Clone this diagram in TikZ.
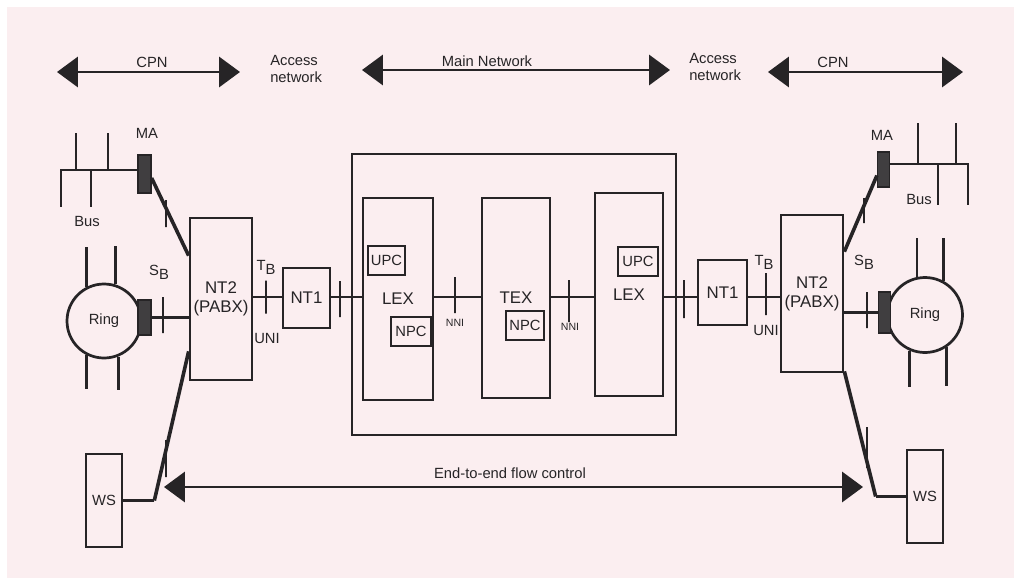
\documentclass[tikz,border=0pt]{standalone}
\usepackage{fontspec}
\setmainfont{Liberation Sans}
\usetikzlibrary{positioning, calc, arrows.meta}
\definecolor{paper}{RGB}{251,238,240}
\definecolor{ink}{RGB}{38,36,38}
\newcommand{\pxl}{0.25mm}
\tikzset{
wire/.style={draw=ink, line width=0.68mm}, % ordinary line between two parts
heavy/.style={draw=ink, line width=0.9mm}, % slanted lines to NT2
box/.style={draw=ink, line width=0.68mm, fill=paper, inner sep=0pt, align=center, text=ink, font=\fontsize{12}{13.5}\selectfont}, % equipment box
subbox/.style={box, font=\fontsize{10.5}{11.5}\selectfont}, % UPC and NPC
ringnode/.style={box, circle, font=\fontsize{10.5}{11.5}\selectfont}, % ring network
mablock/.style={draw=ink, fill=ink!88, line width=0.3mm, inner sep=0pt}, % medium adapter
tickbar/.style={draw=ink, line width=0.6mm, inner sep=0pt, minimum width=0pt}, % reference point mark
lbl/.style={font=\fontsize{10.5}{11.8}\selectfont, text=ink, inner sep=0pt}, % plain text
tinylbl/.style={font=\fontsize{7.5}{8}\selectfont, text=ink, inner sep=0pt}, % NNI text
span/.style={draw=ink, line width=0.65mm, {Triangle[length=5.2mm,width=7.5mm]}-{Triangle[length=5.2mm,width=7.5mm]}}, % double arrow
}

\begin{document}
\begin{tikzpicture}[x=0.25mm, y=-0.25mm]
\fill[white] (0,0) rectangle (1014,578);
\fill[paper] (7,7) rectangle (1014,578);
\useasboundingbox (0,0) rectangle (1014,578);

% spans on top
\coordinate (cpnLa) at (57,72);
\coordinate (cpnLb) at (240,72);
\coordinate (mainA) at (362,70);
\coordinate (mainB) at (670,70);
\coordinate (cpnRa) at (768,72);
\coordinate (cpnRb) at (963,72);
\draw[span] (cpnLa) -- (cpnLb);
\draw[span] (mainA) -- (mainB);
\draw[span] (cpnRa) -- (cpnRb);
\node[lbl] (cpnLtxt) at (152,62) {CPN};
\node[lbl, align=left, anchor=west] (accL) at (270,69) {Access\\network};
\node[lbl] (mainTxt) at (487,61) {Main Network};
\node[lbl, align=left, anchor=west] (accR) at (689,67) {Access\\network};
\node[lbl] (cpnRtxt) at (833,62) {CPN};

% main network
\node[box, minimum width=324*\pxl, minimum height=281*\pxl] (core) at (514,294.5) {};
\node[box, minimum width=70*\pxl, minimum height=202*\pxl] (lexL) at (398,299) {LEX};
\node[subbox, minimum width=37*\pxl, minimum height=29*\pxl] (upcL) at (386.5,260.5) {UPC};
\node[subbox, minimum width=40*\pxl, minimum height=29*\pxl] (npcL) at (411,331.5) {NPC};
\node[box, minimum width=68*\pxl, minimum height=200*\pxl] (tex) at (516,298) {TEX};
\node[subbox, minimum width=38*\pxl, minimum height=29*\pxl] (npcT) at (525,325.5) {NPC};
\node[box, minimum width=68*\pxl, minimum height=203*\pxl] (lexR) at (629,294.5) {LEX};
\node[subbox, minimum width=40*\pxl, minimum height=29*\pxl] (upcR) at (638,261.5) {UPC};

% access side
\node[box, minimum width=47*\pxl, minimum height=60*\pxl] (nt1L) at (306.5,298) {NT1};
\node[box, minimum width=62*\pxl, minimum height=162*\pxl] (nt2L) at (221,299) {NT2\\(PABX)};
\node[box, minimum width=49*\pxl, minimum height=65*\pxl] (nt1R) at (722.5,292.5) {NT1};
\node[box, minimum width=62*\pxl, minimum height=157*\pxl] (nt2R) at (812,293.5) {NT2\\(PABX)};

% customer premises
\node[subbox, minimum width=36*\pxl, minimum height=93*\pxl] (wsL) at (104,500.5) {WS};
\node[subbox, minimum width=36*\pxl, minimum height=93*\pxl] (wsR) at (925,496.5) {WS};
\node[ringnode, minimum size=74*\pxl] (ringL) at (104,321) {Ring};
\node[ringnode, minimum size=75*\pxl] (ringR) at (925,315) {Ring};
\node[mablock, minimum width=13*\pxl, minimum height=38*\pxl] (maL) at (144.5,174) {};
\node[mablock, minimum width=12*\pxl, minimum height=35*\pxl] (maR) at (883.5,169.5) {};
\node[mablock, minimum width=13*\pxl, minimum height=35*\pxl] (ringBL) at (144.5,317.5) {};
\node[mablock, minimum width=12*\pxl, minimum height=41*\pxl] (ringBR) at (884.5,312.5) {};

% lines
\coordinate (axis) at (0,297);
\draw[wire] (nt2L.east |- axis) -- (nt1L.west |- axis)
  (nt1L.east |- axis) -- (lexL.west |- axis)
  (lexL.east |- axis) -- (tex.west |- axis)
  (tex.east |- axis) -- (lexR.west |- axis)
  (lexR.east |- axis) -- (nt1R.west |- axis)
  (nt1R.east |- axis) -- (nt2R.west |- axis);
\draw[heavy] ($(maL.east)+(0,4)$) -- ($(nt2L.north west)+(0,39)$);
\draw[wire] (ringBL.east) -- (ringBL.east -| nt2L.west);
\draw[heavy] ($(nt2L.south west)+(0,-30)$) -- ($(wsL.east)+(31,0)$);
\draw[wire] ($(wsL.east)+(31,0)$) -- (wsL.east);
\draw[heavy] ($(nt2R.north east)+(0,38)$) -- ($(maR.west)+(0,6)$);
\draw[wire] (ringBR.west -| nt2R.east) -- (ringBR.west);
\draw[heavy] ($(nt2R.south east)+(0,-2)$) -- ($(wsR.west)+(-30,0)$);
\draw[wire] ($(wsR.west)+(-30,0)$) -- (wsR.west);

% buses and ring stubs
\coordinate (busL) at (60,170);
\coordinate (busR) at (968,164);
\draw[wire] (busL) -- (maL.west |- busL);
\draw[wire] (76,133) -- (76,170) (108,133) -- (108,170) (61,170) -- (61,207) (91,170) -- (91,207);
\draw[wire] (maR.east |- busR) -- (busR) -- (968,205);
\draw[wire] (918,123) -- (918,164) (956,123) -- (956,164) (938,164) -- (938,205);
\draw[wire] (ringL.117) -- ++(0,-40) (ringL.73) -- ++(0,-38)
  (ringL.243) -- ++(0,34) (ringL.292) -- ++(0,33);
\draw[wire] (ringR.102) -- ++(0,-39) (ringR.61) -- ++(0,-43)
  (ringR.246) -- ++(0,36) (ringR.304) -- ++(0,39);

% reference point marks
\node[tickbar, minimum height=27*\pxl] (tkMaL) at (166,213.5) {};
\node[tickbar, minimum height=36*\pxl] (tkRingL) at (163,315) {};
\node[tickbar, minimum height=37*\pxl] (tkWsL) at (166,458.5) {};
\node[tickbar, minimum height=33*\pxl] (tkTL) at (266,297) {};
\node[tickbar, minimum height=36*\pxl] (tkNL) at (340,299) {};
\node[tickbar, minimum height=36*\pxl] (tkNni1) at (455,295) {};
\node[tickbar, minimum height=42*\pxl] (tkNni2) at (569,301) {};
\node[tickbar, minimum height=38*\pxl] (tkNR) at (684,299) {};
\node[tickbar, minimum height=42*\pxl] (tkTR) at (766,294) {};
\node[tickbar, minimum height=25*\pxl] (tkMaR) at (864,210.5) {};
\node[tickbar, minimum height=36*\pxl] (tkRingR) at (867,310) {};
\node[tickbar, minimum height=41*\pxl] (tkWsR) at (867,447.5) {};

% labels
\node[lbl] (maLtxt) at (147,133) {MA};
\node[lbl] (maRtxt) at (882,135) {MA};
\node[lbl] (busLtxt) at (87,221) {Bus};
\node[lbl] (busRtxt) at (919,199) {Bus};
\node[lbl] (sbL) at (159,272) {S\raisebox{-0.5ex}{B}};
\node[lbl] (sbR) at (864,262) {S\raisebox{-0.5ex}{B}};
\node[lbl] (tbL) at (266,267) {T\raisebox{-0.5ex}{B}};
\node[lbl] (tbR) at (764,262) {T\raisebox{-0.5ex}{B}};
\node[lbl] (uniL) at (267,338) {UNI};
\node[lbl] (uniR) at (766,330) {UNI};
\node[tinylbl] (nni1) at (455,323) {NNI};
\node[tinylbl] (nni2) at (570,327) {NNI};

% end-to-end
\coordinate (flowA) at (164,487);
\coordinate (flowB) at (863,487);
\draw[span] (flowA) -- (flowB);
\node[lbl] (flowTxt) at (510,473) {End-to-end flow control};
\end{tikzpicture}
\end{document}
